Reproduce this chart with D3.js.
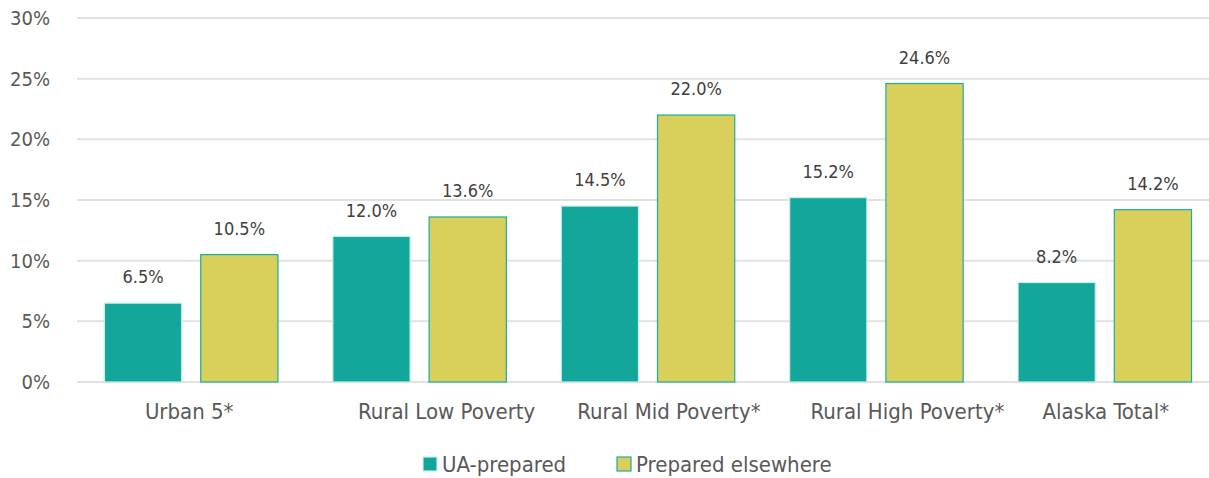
<!DOCTYPE html>
<html>
<head>
<meta charset="utf-8">
<script src="https://cdn.jsdelivr.net/npm/d3@7"></script>
<style>
  body { margin: 0; background: #fff; }
  text { font-family: "Liberation Sans Narrow", "DejaVu Sans Condensed", sans-serif; fill: #595959; }
</style>
</head>
<body>
<div id="chart"></div>
<script>
// data
const categories = ["Urban 5*", "Rural Low Poverty", "Rural Mid Poverty*", "Rural High Poverty*", "Alaska Total*"];
const uaPrepared = [6.5, 12.0, 14.5, 15.2, 8.2];
const preparedElsewhere = [10.5, 13.6, 22.0, 24.6, 14.2];
const seriesNames = ["UA-prepared", "Prepared elsewhere"];
const yTicks = [0, 5, 10, 15, 20, 25, 30];

// label nudges (Excel placed the category labels a bit off-centre)
const labelNudge = [-2, 27, 21, 31, 1];

const width = 1209, height = 478;
const margin = {top: 18, right: -10, bottom: 96, left: 77};

const svg = d3.select("#chart")
  .append("svg")
    .attr("width", width)
    .attr("height", height);

const x = d3.scaleBand()
  .domain(categories)
  .range([margin.left, width - margin.right])
  .paddingInner(0)
  .paddingOuter(0);

const sub = d3.scaleBand()
  .domain(seriesNames)
  .range([0, x.bandwidth()])
  .paddingInner(0.1875)
  .paddingOuter(0.28);

const y = d3.scaleLinear()
  .domain([0, 30])
  .range([height - margin.bottom, margin.top]);

const colors = {"UA-prepared": "#13a79c", "Prepared elsewhere": "#d9d05b"};
const strokes = {"UA-prepared": "#c9eee9", "Prepared elsewhere": "#19ad9f"};

// gridlines
svg.append("g")
  .selectAll("line")
  .data(yTicks)
  .enter().append("line")
    .attr("x1", margin.left)
    .attr("x2", width)
    .attr("y1", d => y(d))
    .attr("y2", d => y(d))
    .attr("stroke", "#e1e1e1")
    .attr("stroke-width", 2);

// y axis labels
svg.append("g")
  .selectAll("text")
  .data(yTicks)
  .enter().append("text")
    .attr("x", 50)
    .attr("y", d => y(d))
    .attr("dy", "0.35em")
    .attr("text-anchor", "end")
    .style("font-size", "20px")
    .text(d => d + "%");

const rows = categories.map((c, i) => ({cat: c, values: [
  {name: seriesNames[0], value: uaPrepared[i]},
  {name: seriesNames[1], value: preparedElsewhere[i]}
]}));

const groups = svg.append("g")
  .selectAll("g")
  .data(rows)
  .enter().append("g")
    .attr("transform", d => "translate(" + x(d.cat) + ",0)");

groups.selectAll("rect")
  .data(d => d.values)
  .enter().append("rect")
    .attr("x", d => sub(d.name) + 0.5)
    .attr("y", d => y(d.value))
    .attr("width", sub.bandwidth() - 1)
    .attr("height", d => y(0) - y(d.value))
    .attr("fill", d => colors[d.name])
    .attr("stroke", d => strokes[d.name])
    .attr("stroke-width", 1.2);

groups.selectAll("text.val")
  .data(d => d.values)
  .enter().append("text")
    .attr("class", "val")
    .attr("x", d => sub(d.name) + sub.bandwidth() / 2)
    .attr("y", d => y(d.value) - 26)
    .attr("dy", "0.35em")
    .attr("text-anchor", "middle")
    .style("font-size", "18px")
    .style("fill", "#404040")
    .text(d => d.value.toFixed(1) + "%");

// category labels
svg.append("g")
  .selectAll("text")
  .data(categories)
  .enter().append("text")
    .attr("x", (d, i) => x(d) + x.bandwidth() / 2 + labelNudge[i])
    .attr("y", 411)
    .attr("dy", "0.35em")
    .attr("text-anchor", "middle")
    .style("font-size", "22px")
    .text(d => d);

// legend
const legendX = [423, 617];
const legend = svg.append("g")
  .selectAll("g")
  .data(seriesNames)
  .enter().append("g")
    .attr("transform", (d, i) => "translate(" + legendX[i] + ",457)");

legend.append("rect")
  .attr("width", 14)
  .attr("height", 14)
  .attr("fill", d => colors[d])
  .attr("stroke", d => strokes[d])
  .attr("stroke-width", 1.2);

legend.append("text")
  .attr("x", 19)
  .attr("y", 7)
  .attr("dy", "0.35em")
  .style("font-size", "22px")
  .text(d => d);
</script>
</body>
</html>
